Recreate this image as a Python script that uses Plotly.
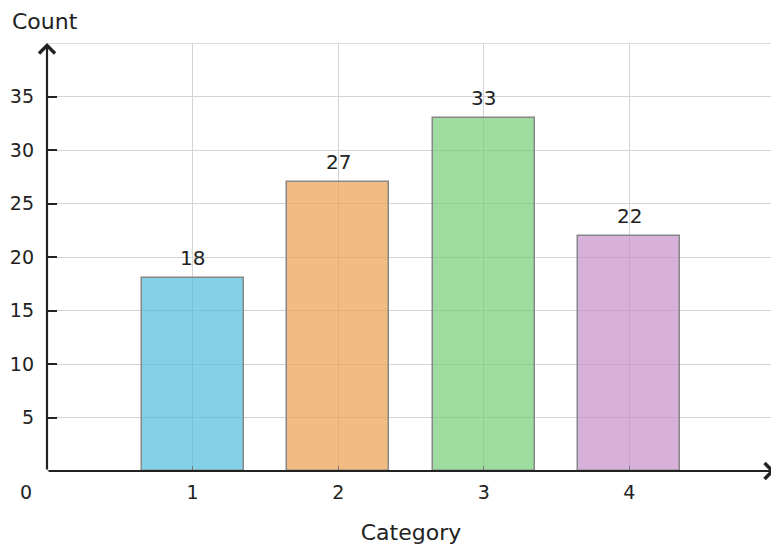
import plotly.graph_objects as go

categories = [1, 2, 3, 4]
counts = [18, 27, 33, 22]
bar_colors = ["rgba(80,188,222,0.7)", "rgba(236,158,78,0.7)",
              "rgba(118,205,118,0.7)", "rgba(198,144,202,0.7)"]
y_ticks = [5, 10, 15, 20, 25, 30, 35]

font = "DejaVu Sans"
dark = "#222222"
grid = "#d4d4d4"

fig = go.Figure()
fig.add_trace(
    go.Bar(
        x=categories,
        y=counts,
        width=0.7,
        marker=dict(color=bar_colors, line=dict(color="#888888", width=1.5)),
    )
)

# value labels above bars
for c, v in zip(categories, counts):
    fig.add_annotation(x=c, y=v, xref="x", yref="y", text=str(v),
                       showarrow=False, yanchor="bottom", yshift=6,
                       font=dict(family=font, size=20, color=dark))

# light frame on the top and right sides
fig.add_shape(type="rect", xref="x", yref="y", x0=0, y0=0, x1=5, y1=40,
              line=dict(color=grid, width=1.4), layer="below")

# axis arrows
fig.add_annotation(x=5, y=0, ax=0, ay=0, xref="x", yref="y",
                   axref="x", ayref="y", text="", showarrow=True,
                   arrowhead=4, arrowsize=1.4, arrowwidth=2.2, arrowcolor=dark)
fig.add_annotation(x=0, y=40, ax=0, ay=0, xref="x", yref="y",
                   axref="x", ayref="y", text="", showarrow=True,
                   arrowhead=4, arrowsize=1.4, arrowwidth=2.2, arrowcolor=dark)

# origin label
fig.add_annotation(x=0, y=0, xref="x", yref="y", text="0", showarrow=False,
                   xshift=-21, yshift=-21,
                   font=dict(family=font, size=19, color=dark))

# y axis title at top-left (kept inside the figure's top edge)
fig.add_annotation(x=-0.05, y=1.0818, xref="paper", yref="paper",
                   text="Count", showarrow=False, xanchor="left",
                   yanchor="top", borderpad=0,
                   font=dict(family=font, size=22, color=dark))

# page body has an 8px margin, so the figure is 8px smaller than the window
fig.update_layout(
    width=771,
    height=540,
    margin=dict(l=39, r=4, t=35, b=77, autoexpand=False),
    paper_bgcolor="white",
    plot_bgcolor="white",
    showlegend=False,
    bargap=0,
    font=dict(family=font, size=19, color=dark),
    xaxis=dict(
        range=[0, 5],
        tickvals=categories,
        ticks="inside",
        ticklen=5,
        tickcolor="#777777",
        ticklabelstandoff=8,
        showgrid=True,
        gridcolor=grid,
        gridwidth=1.4,
        zeroline=False,
        showline=False,
        title=dict(text="Category", font=dict(family=font, size=22, color=dark),
                   standoff=22),
    ),
    yaxis=dict(
        range=[0, 40],
        tickvals=y_ticks,
        ticks="inside",
        ticklen=10,
        tickwidth=2,
        tickcolor=dark,
        showgrid=True,
        gridcolor=grid,
        gridwidth=1.4,
        zeroline=False,
        showline=False,
        ticklabelstandoff=12,
    ),
)

fig.write_html("out.html")
